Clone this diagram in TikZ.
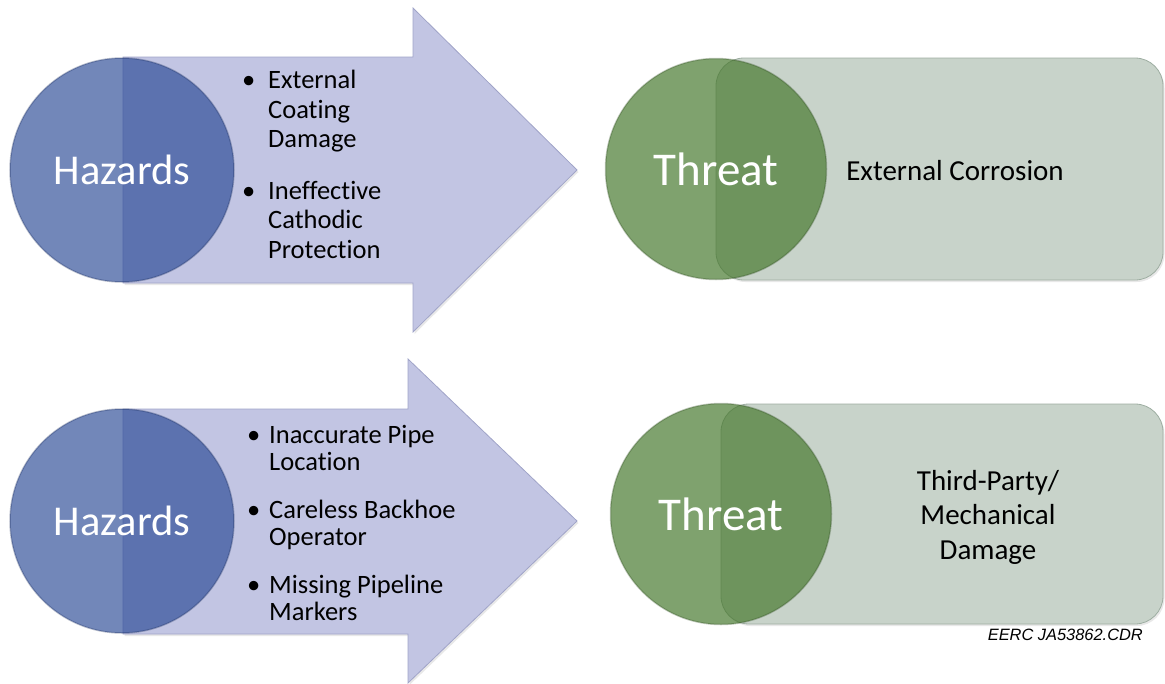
\documentclass[tikz,border=0pt]{standalone}
\usepackage{fontspec}
\setmainfont[Ligatures=NoCommon]{Carlito}
\newfontfamily\eercfont{Liberation Sans}
\usetikzlibrary{shadows}
\definecolor{arrowfill}{RGB}{194,197,227}
\definecolor{arrowline}{RGB}{160,164,200}
\definecolor{hazblue}{RGB}{38,70,148}
\definecolor{threatgreen}{RGB}{70,120,45}
\definecolor{boxfill}{RGB}{200,211,202}
\definecolor{boxline}{RGB}{158,174,162}
\newcommand\bul{\makebox[26pt][l]{\textbullet}}
\newcommand\ind{\makebox[26pt]{}}
\newcommand\bulb{\makebox[22pt][l]{\textbullet}}
\newcommand\indb{\makebox[22pt]{}}
\tikzset{
  hazcircle/.style={circle, minimum size=224pt, inner sep=0pt, fill=hazblue, fill opacity=.65,
    text opacity=1, draw=hazblue!60!black, draw opacity=.3, line width=1.5pt, text=white,
    font=\fontsize{42.5}{50}\selectfont},
  threatcircle/.style={circle, minimum size=221pt, inner sep=0pt, fill=threatgreen, fill opacity=.69,
    text opacity=1, draw=threatgreen!60!black, draw opacity=.3, line width=1.5pt, text=white,
    font=\fontsize{47}{56}\selectfont},
  hazarrow/.style={fill=arrowfill, draw=arrowline, line width=.8pt,
    drop shadow={opacity=.18, shadow xshift=1.5pt, shadow yshift=-2pt}},
  threatbox/.style={fill=boxfill, draw=boxline, line width=.8pt, rounded corners=28pt,
    drop shadow={opacity=.18, shadow xshift=1.5pt, shadow yshift=-2pt}},
  itemlist/.style={anchor=base west, align=left, inner sep=0pt},
  threattext/.style={align=center, inner sep=0pt, font=\fontsize{29}{34.5}\selectfont}
}
\begin{document}
\begin{tikzpicture}[x=1pt,y=-1pt]
\def\toparrow{(123,57) -- (413,57) -- (413,8) -- (577,170) -- (413,332) -- (413,283) -- (123,283) -- cycle}
\def\botarrow{(123,409) -- (408,409) -- (408,359) -- (577,521) -- (408,683) -- (408,634) -- (123,634) -- cycle}
\useasboundingbox (0,0) rectangle (1165,683);

\path[hazarrow] \toparrow;
\path[hazarrow] \botarrow;
\draw[threatbox] (716,58) rectangle (1163,280);
\draw[threatbox] (721,404) rectangle (1163,624);

\node[hazcircle] (haz1) at (122,170) {Hazards};
\node[hazcircle] (haz2) at (122,521) {Hazards};
\node[threatcircle] (thr1) at (716,169) {Threat};
\node[threatcircle] (thr2) at (721,514) {Threat};

\node[itemlist, font=\fontsize{26.5}{29.5}\selectfont] (list1) at (242,258)
  {\bul External\\\ind Coating\\\ind Damage\\[22pt]\bul Ineffective\\\ind Cathodic\\\ind Protection};
\node[itemlist, font=\fontsize{26.5}{27}\selectfont] (list2) at (247,620)
  {\bulb Inaccurate Pipe\\\indb Location\\[21pt]\bulb Careless Backhoe\\\indb Operator\\[21pt]\bulb Missing Pipeline\\\indb Markers};

\node[threattext] (corr) at (955,171) {External Corrosion};
\node[threattext] (mech) at (988,517) {Third-Party/\\Mechanical\\Damage};

\node[anchor=base east, inner sep=0pt, font=\eercfont\itshape\fontsize{16.4}{19}\selectfont] (eerc) at (1143,640) {EERC JA53862.CDR};
\end{tikzpicture}
\end{document}
